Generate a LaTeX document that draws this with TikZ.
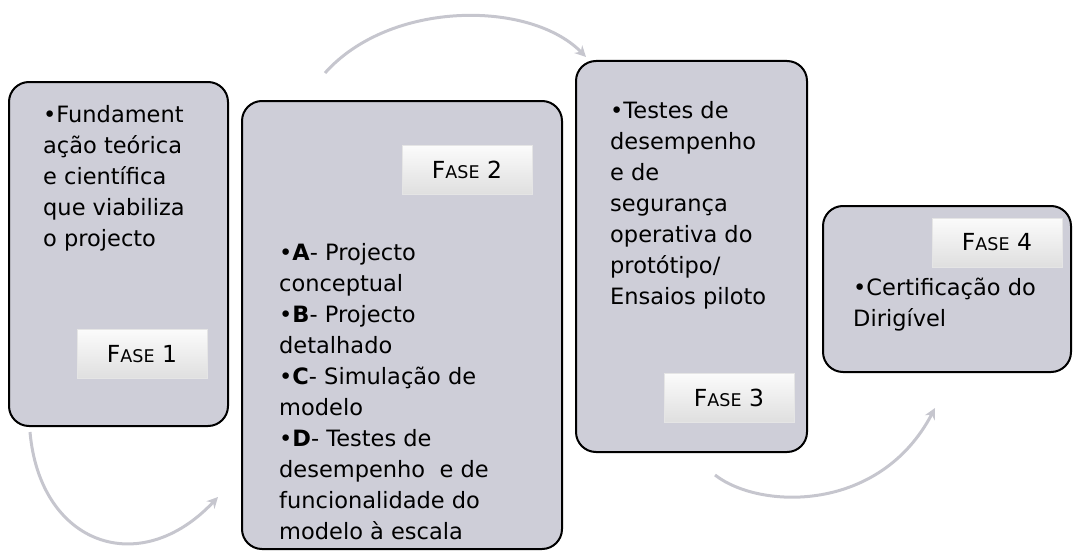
\documentclass[tikz,border=0pt]{standalone}
\usepackage{fontspec}
\setmainfont{DejaVu Sans}
\usepackage{tikz}
\usetikzlibrary{arrows.meta}
\definecolor{fasebox}{RGB}{206, 206, 216}
\definecolor{faseseta}{RGB}{198, 198, 206}
\newcommand{\lin}{\rule{0pt}{17pt}}
\newcommand{\fase}[1]{{\fontsize{23.5}{24}\selectfont F{\fontsize{17.5}{20}\selectfont ASE} #1}}

\begin{document}
\begin{tikzpicture}[x=1pt, y=-1pt,
    caixa/.style={draw=black, line width=2pt, fill=fasebox, rounded corners=20pt, inner sep=0pt},
    rotulo/.style={draw=white!80!gray, line width=0.8pt, top color=white!97!gray, bottom color=gray!25,
        inner sep=0pt, minimum width=130pt, minimum height=49pt},
    texto/.style={anchor=north west, inner sep=0pt, align=left, font=\fontsize{22.5}{31}\selectfont},
    seta/.style={faseseta, line width=3pt, -{Stealth[length=11pt, width=11pt]}}]
        \useasboundingbox (0,0) rectangle (1076,551);
        % caixas
        \node[caixa, minimum width=219pt, minimum height=344pt] (c1) at (118.5,254) {};
        \node[caixa, minimum width=320pt, minimum height=448pt] (c2) at (402,325) {};
        \node[caixa, minimum width=231pt, minimum height=391pt] (c3) at (691.5,256.5) {};
        \node[caixa, minimum width=248pt, minimum height=166pt] (c4) at (947,289) {};
        % textos
        \node[texto] (t1) at (43,105) {\lin•Fundament\\ação teórica\\e científica\\que viabiliza\\o projecto};
        \node[texto] (t2) at (279,243) {\lin•\textbf{A}- Projecto\\conceptual\\•\textbf{B}- Projecto\\detalhado\\
            •\textbf{C}- Simulação de\\modelo\\•\textbf{D}- Testes de\\desempenho~ e de\\funcionalidade do\\modelo à escala};
        \node[texto] (t3) at (610,101) {\lin•Testes de\\desempenho\\e de\\segurança\\operativa do\\protótipo/\\Ensaios piloto};
        \node[texto] (t4) at (853,278) {\lin•Certificação do\\Dirigível};
        % rotulos
        \node[rotulo] (f1) at (142,354) {\fase{1}};
        \node[rotulo] (f2) at (467,170) {\fase{2}};
        \node[rotulo] (f3) at (729,397.5) {\fase{3}};
        \node[rotulo] (f4) at (997,242.5) {\fase{4}};
        % setas
        \coordinate (s1a) at (30,432);
        \coordinate (s1b) at (218,497);
        \coordinate (s2a) at (325,73);
        \coordinate (s2b) at (586,57);
        \coordinate (s3a) at (715,475);
        \coordinate (s3b) at (935,408);
        \draw[seta] (s1a) .. controls (40,545) and (140,580) .. (s1b);
        \draw[seta] (s2a) .. controls (390,0) and (530,0) .. (s2b);
        \draw[seta] (s3a) .. controls (760,510) and (880,513) .. (s3b);
    \end{tikzpicture}
\end{document}
